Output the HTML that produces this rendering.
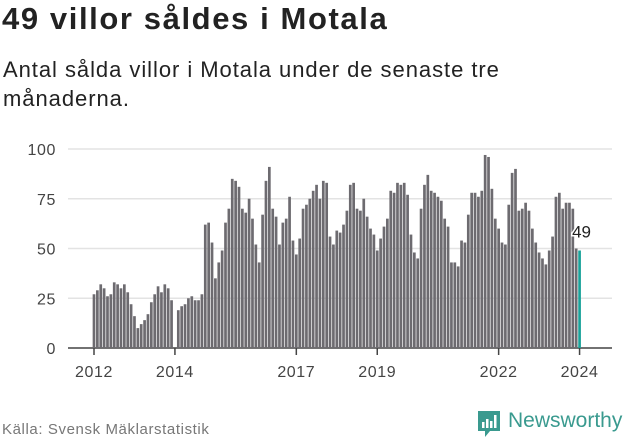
<!DOCTYPE html>
<html><head><meta charset="utf-8">
<style>
body{margin:0;width:631px;height:439px;background:#fff;font-family:"Liberation Sans",sans-serif;overflow:hidden;position:relative}
.t{position:absolute;left:2px;top:1px;font-size:31px;letter-spacing:1.6px;font-weight:bold;color:#222}
.s{position:absolute;left:3px;top:55px;font-size:22px;letter-spacing:0.95px;line-height:29px;color:#222}
.src{position:absolute;left:2px;top:421px;font-size:15px;letter-spacing:0.6px;color:#777}
</style></head><body>
<div class="t">49 villor såldes i Motala</div>
<div class="s">Antal sålda villor i Motala under de senaste tre<br>månaderna.</div>
<svg id="c" width="631" height="439" style="position:absolute;left:0;top:0"></svg>
<div class="src">Källa: Svensk Mäklarstatistik</div>
<div style="position:absolute;left:476px;top:409px;height:30px;">
<svg width="26" height="30" style="position:absolute;left:0;top:0"><path d="M2 2h22v20h-10l-5 6v-6h-7z" fill="#3a9a8f"/><rect x="6" y="13" width="2.5" height="6" fill="#fff"/><rect x="10" y="10" width="2.5" height="9" fill="#fff"/><rect x="14" y="12" width="2.5" height="7" fill="#fff"/><rect x="18" y="6" width="2.5" height="13" fill="#fff"/></svg>
<span style="position:absolute;left:32px;top:0px;font-size:21px;color:#3a9a8f;white-space:nowrap">Newsworthy</span>
</div>
<script>
const values=[27,29,32,30,26,27,33,32,30,32,28,22,16,10,12,14,17,23,27,31,28,32,30,24,
0,19,21,22,25,26,24,24,27,62,63,53,
35,43,49,63,70,85,84,81,70,68,75,65,
52,43,67,84,91,70,66,52,63,65,76,54,
47,55,70,72,75,79,82,75,84,83,56,
52,59,58,62,69,82,83,70,69,75,66,60,57,49,55,61,65,79,78,83,82,83,77,57,48,45,70,82,87,79,78,76,74,65,61,43,43,
41,54,53,67,78,78,76,79,97,96,80,65,60,53,52,72,88,90,69,70,73,69,60,53,48,45,42,49,56,76,78,70,73,73,70,50,49];
const yTicks=[0,25,50,75,100];
const xTickYears=[2012,2014,2017,2019,2022,2024];
const startYear=2012;
const svg=document.getElementById('c');
const NS='http://www.w3.org/2000/svg';
const y=v=>348-v*1.99;
const x=i=>94+i*3.372;
function mk(t,a){const e=document.createElementNS(NS,t);for(const k in a)e.setAttribute(k,a[k]);svg.appendChild(e);return e;}
yTicks.forEach(v=>{
 const g=mk('line',{x1:68,x2:612,y1:y(v),y2:y(v),stroke:v?'#e3e3e3':'#444','stroke-width':1.5});
 
 
 const t=mk('text',{x:56,y:y(v)+6,'text-anchor':'end','font-size':16,'letter-spacing':0.6,fill:'#444','font-family':'Liberation Sans'});
 t.textContent=v;
 
 
});
values.forEach((v,i)=>{
 const r=mk('rect',{x:x(i)-1.35,y:y(v),width:2.7,height:348-y(v),fill:i==values.length-1?'#1aa39a':'#6d6b70'});
 
 
});
xTickYears.forEach(yr=>{
 const i=(yr-startYear)*12;
 const l=mk('line',{x1:x(i),x2:x(i),y1:348,y2:355,stroke:'#444','stroke-width':1.5});
 
 
 const t=mk('text',{x:x(i),y:377,'text-anchor':'middle','font-size':16,'letter-spacing':0.6,fill:'#444','font-family':'Liberation Sans'});
 t.textContent=yr;
 
 
});
const last=values.length-1;
const lb=mk('text',{x:x(last)+2,y:y(values[last])-13,'text-anchor':'middle','font-size':17,fill:'#222',stroke:'#fff','stroke-width':3,'paint-order':'stroke','font-family':'Liberation Sans'});
lb.textContent=values[last];


</script>
</body></html>
